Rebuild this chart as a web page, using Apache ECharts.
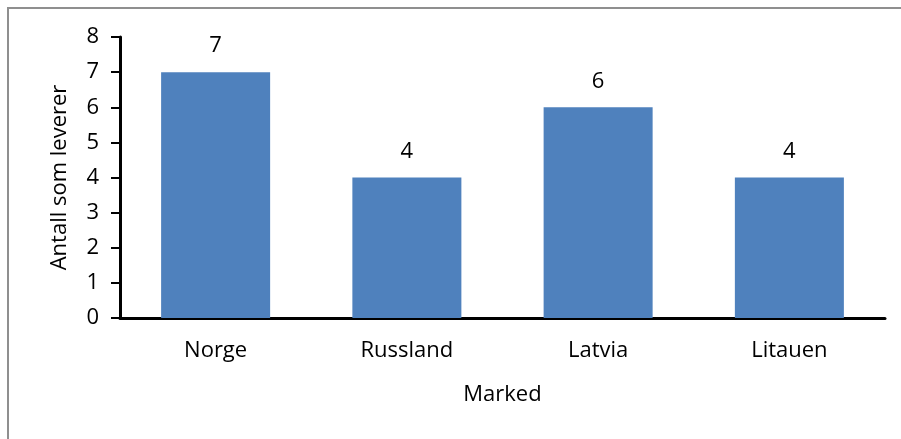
<!DOCTYPE html>
<html>
<head>
<meta charset="utf-8">
<script src="https://cdn.jsdelivr.net/npm/echarts@6/dist/echarts.min.js"></script>
<style>
  html, body { margin: 0; padding: 0; background: #fff; overflow: hidden; }
  #chart { width: 901px; height: 439px; }
  #frame { position: absolute; left: 7px; top: 7px; width: 960px; height: 500px; border-left: 2px solid #8f8f8f; border-top: 2px solid #8f8f8f; box-sizing: border-box; pointer-events: none; }
</style>
</head>
<body>
<div id="chart"></div>
<div id="frame"></div>
<script>
// data
const markets = ['Norge', 'Russland', 'Latvia', 'Litauen'];
const counts = [7, 4, 6, 4];
const yTicks = [0, 8, 1];  // min, max, interval

const font = '"Open Sans", sans-serif';
const chart = echarts.init(document.getElementById('chart'), null, { renderer: 'canvas' });
chart.setOption({
  animation: false,
  textStyle: { fontFamily: font },
  grid: { left: 120, right: 16, top: 37, bottom: 121, containLabel: false },
  xAxis: {
    type: 'category',
    data: markets,
    name: 'Marked',
    nameLocation: 'middle',
    nameGap: 66,
    nameTextStyle: { color: '#000', fontSize: 22, fontFamily: font },
    axisLine: { lineStyle: { color: '#000', width: 3 } },
    axisTick: { show: false },
    axisLabel: { color: '#000', fontSize: 22, margin: 22, fontFamily: font }
  },
  yAxis: {
    type: 'value',
    min: yTicks[0],
    max: yTicks[1],
    interval: yTicks[2],
    name: 'Antall som leverer',
    nameLocation: 'middle',
    nameGap: 49,
    nameTextStyle: { color: '#000', fontSize: 22, fontFamily: font },
    axisLine: { show: true, lineStyle: { color: '#000', width: 3 } },
    axisTick: { show: true, length: 9, lineStyle: { color: '#000', width: 2 } },
    axisLabel: { color: '#000', fontSize: 22, margin: 21, fontFamily: font },
    splitLine: { show: false }
  },
  series: [{
    type: 'bar',
    data: counts,
    barWidth: '57%',
    itemStyle: { color: '#4f81bd' },
    label: { show: true, position: 'top', distance: 15, color: '#000', fontSize: 22, fontFamily: font }
  }]
});
</script>
</body>
</html>
